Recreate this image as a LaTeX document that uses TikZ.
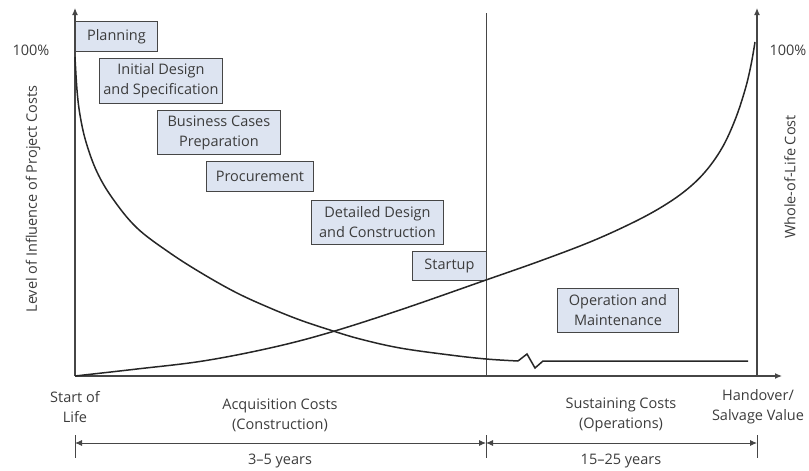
\documentclass[tikz,border=0pt]{standalone}
\usepackage{fontspec}
\setmainfont{Open Sans}
\usetikzlibrary{arrows.meta,positioning}

\definecolor{phasefill}{RGB}{221,228,241}
\definecolor{linegray}{RGB}{70,70,70}
\definecolor{txtgray}{RGB}{60,60,60}

\tikzset{
  >={Latex[length=7pt,width=6pt]},
  axis/.style={draw=linegray, line width=1.2pt},
  divider/.style={draw=linegray, line width=0.9pt},
  curve/.style={draw=black!85, line width=1.5pt},
  phase/.style={draw=linegray, fill=phasefill, line width=0.9pt, align=center,
    inner sep=0pt, anchor=north west},
  lbl/.style={align=center, inner sep=0pt},
}

\begin{document}
\begin{tikzpicture}[x=1pt,y=-1pt,font=\fontsize{14.5}{20}\selectfont,text=txtgray]
  \useasboundingbox (0,0) rectangle (809,471);

  \def\xmin{75}
  \def\xmid{486}
  \def\xmax{757}
  \def\ybot{376}
  \def\ytop{8}
  \def\ydim{443}

  % axes
  \coordinate (origin) at (\xmin,\ybot);
  \coordinate (ltop) at (\xmin,\ytop);
  \coordinate (rbot) at (\xmax,\ybot);
  \coordinate (rtop) at (\xmax,\ytop);
  \coordinate (xend) at (782,\ybot);
  \coordinate (divtop) at (\xmid,13);
  \coordinate (divbot) at (\xmid,\ybot);
  \draw[axis,->] (origin) -- (ltop);
  \draw[axis,->] (rbot) -- (rtop);
  \draw[axis,->] (origin) -- (xend);
  \draw[divider] (divtop) -- (divbot);

  % axis labels
  \node[lbl] (lpct) at (31,50) {100\%};
  \node[lbl] (rpct) at (788,50) {100\%};
  \node[lbl,rotate=90] (lname) at (33,199) {Level of Influence of Project Costs};
  \node[lbl,rotate=90] (rname) at (790,177) {Whole-of-Life Cost};

  % phases
  \node[phase,minimum width=82pt,minimum height=30pt] (planning) at (75,21) {Planning};
  \node[phase,minimum width=123pt,minimum height=45pt] (initial) at (99,58) {Initial Design\\and Specification};
  \node[phase,minimum width=123pt,minimum height=44pt] (business) at (157,110) {Business Cases\\Preparation};
  \node[phase,minimum width=107pt,minimum height=30pt] (procure) at (206,161) {Procurement};
  \node[phase,minimum width=132pt,minimum height=44pt] (detailed) at (311,200) {Detailed Design\\and Construction};
  \node[phase,minimum width=74pt,minimum height=29pt] (startup) at (412,251) {Startup};
  \node[phase,minimum width=121pt,minimum height=44pt] (operation) at (557,288) {Operation and\\Maintenance};

  % influence curve
  \draw[curve] plot[smooth,tension=0.6] coordinates {(75,57) (77,90) (80,115) (86,142)
    (97,172) (113,199) (137,228) (170,253) (203,274) (237,293) (270,308)
    (300,320) (330,330) (360,339) (400,348) (450,355) (486,359) (518,361)};
  \draw[curve] (518,361) -- (527,354) -- (535,368) -- (543,361) -- (748,361);

  % whole-of-life cost curve
  \draw[curve] plot[smooth,tension=0.6] coordinates {(75,376) (137,369) (203,361)
    (270,348) (328,333) (400,310) (486,280) (540,261) (590,242) (630,224)
    (660,208) (685,191) (705,172) (722,148) (735,120) (745,90) (751,65) (755,42)};

  % phase labels along the time axis
  \node[lbl] (start) at (75,407) {Start of\\Life};
  \node[lbl] (acq) at (280,415) {Acquisition Costs\\(Construction)};
  \node[lbl] (sust) at (621,415) {Sustaining Costs\\(Operations)};
  \node[lbl] (handover) at (758,407) {Handover/\\Salvage Value};

  % durations
  \coordinate (d0) at (\xmin,\ydim);
  \coordinate (d1) at (\xmid,\ydim);
  \coordinate (d2) at (\xmax,\ydim);
  \foreach \x in {\xmin,\xmid,\xmax}
    \draw[divider] (\x,435) -- (\x,458);
  \draw[divider,<->] (d0) -- (d1);
  \draw[divider,<->] (d1) -- (d2);
  \node[lbl] (acqyrs) at (280,461) {3–5 years};
  \node[lbl] (sustyrs) at (621,461) {15–25 years};

\end{tikzpicture}
\end{document}
